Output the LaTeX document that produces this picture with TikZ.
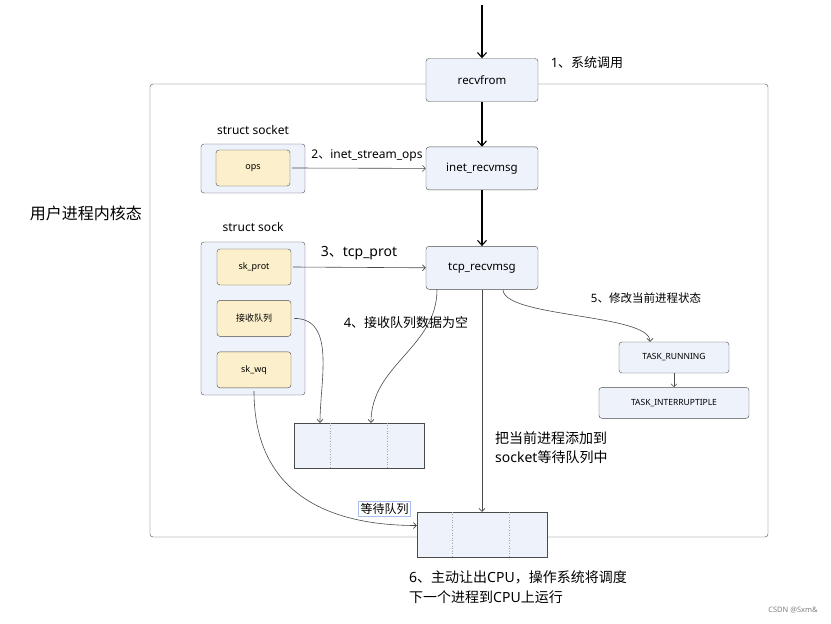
\documentclass[tikz,border=0pt]{standalone}
\usepackage{fontspec}
\setmainfont{Noto Sans}
\newfontfamily\cjk{Noto Sans CJK SC}
\usepackage{xcolor}
\usetikzlibrary{arrows.meta,positioning,calc}
\definecolor{boxblue}{HTML}{EEF2FB}
\definecolor{boxyellow}{HTML}{FCEFCB}
\definecolor{linegray}{HTML}{4A4A4A}
\definecolor{selblue}{HTML}{A9BDF2}

\begin{document}
\begin{tikzpicture}[x=1pt, y=-1pt,
    node distance=15pt,
    func/.style={rectangle, draw=linegray, rounded corners=3pt, fill=boxblue, minimum width=112pt, minimum height=43pt, font=\fontsize{11.5}{13}\selectfont},
    holder/.style={rectangle, draw=linegray, rounded corners=3pt, fill=boxblue, minimum width=104pt},
    field/.style={rectangle, draw=linegray, rounded corners=3pt, fill=boxyellow, minimum width=74pt, minimum height=36pt, font=\fontsize{9}{10}\selectfont},
    taskstate/.style={rectangle, draw=linegray, rounded corners=3pt, fill=boxblue, minimum height=31pt, font=\fontsize{8.5}{10}\selectfont},
    queue/.style={rectangle, draw=linegray, fill=boxblue, minimum width=130pt, minimum height=45pt},
    lbl/.style={font=\fontsize{13}{19}\selectfont, align=left, inner sep=0pt},
    main/.style={line width=1.1pt, -{Straight Barb[length=5pt,width=9pt]}},
    thin/.style={draw=linegray, line width=0.6pt, -{Straight Barb[length=3pt,width=6pt]}},
    sep/.style={gray!70, dotted, line width=0.6pt}
  ]
    \useasboundingbox (0,0) rectangle (831,624);
    % kernel frame
    \node[draw=linegray, rounded corners=3pt, minimum width=618pt, minimum height=453pt] (kernel) at (459,310.5) {};
    \node[lbl, font=\fontsize{16}{18}\selectfont\cjk] (kernlbl) at (86,213) {用户进程内核态};

    % call chain
    \node[func] (recv) at (482,80) {recvfrom};
    \node[func, below=45pt of recv] (inet) {inet\_recvmsg};
    \node[func, below=56pt of inet] (tcp) {tcp\_recvmsg};
    \coordinate (entry) at (482,5);

    % struct socket / struct sock
    \node[holder, minimum height=49pt] (sockethold) at (253,168.5) {};
    \node[field] (ops) at (253,168) {ops};
    \node[lbl, font=\fontsize{12}{14}\selectfont] (socketlbl) at (253,130) {struct socket};
    \node[holder, minimum height=153pt] (sockhold) at (253,318.5) {};
    \node[field] (skprot) at (254,267) {sk\_prot};
    \node[field, below=of skprot] (rxq) {\cjk 接收队列};
    \node[field, below=of rxq] (wq) {sk\_wq};
    \node[lbl, font=\fontsize{12}{14}\selectfont] (socklbl) at (253,227) {struct sock};

    % queues
    \node[queue] (q1) at (359,445.5) {};
    \node[queue] (q2) at (482,534.5) {};
    \draw[sep] ($(q1.north west)!0.28!(q1.north east)$) -- ($(q1.south west)!0.28!(q1.south east)$);
    \draw[sep] ($(q1.north west)!0.72!(q1.north east)$) -- ($(q1.south west)!0.72!(q1.south east)$);
    \draw[sep] ($(q2.north west)!0.27!(q2.north east)$) -- ($(q2.south west)!0.27!(q2.south east)$);
    \draw[sep] ($(q2.north west)!0.71!(q2.north east)$) -- ($(q2.south west)!0.71!(q2.south east)$);
    \node[draw=selblue, line width=1pt, fill=white, inner sep=2pt, font=\fontsize{12}{13}\selectfont\cjk] (waitlbl) at (384.5,509) {等待队列};

    % task states
    \node[taskstate, minimum width=110pt] (run) at (674,357.5) {TASK\_RUNNING};
    \node[taskstate, minimum width=150pt, below=14pt of run] (intr) {TASK\_INTERRUPTIPLE};

    % connectors
    \draw[main] (entry) -- (recv);
    \draw[main] (recv) -- (inet);
    \draw[main] (inet) -- (tcp);
    \draw[thin] ([xshift=2pt]ops.east) -- (inet.west);
    \draw[thin] ([xshift=2pt]skprot.east) -- (tcp.west);
    \draw[thin] ([xshift=3pt]rxq.east) to[out=0, in=90] ([xshift=-39pt]q1.north);
    \draw[thin] ([xshift=-45pt]tcp.south) to[out=-90, in=90] ([xshift=12pt]q1.north);
    \draw[thin] ([yshift=-3pt]wq.south) .. controls +(0,105) and +(-85,0) .. ([yshift=9pt]q2.west);
    \draw[thin] (tcp) -- (q2);
    \draw[thin] ([xshift=21pt]tcp.south) .. controls +(0,28) and +(0,-28) .. ([xshift=-24pt]run.north);
    \draw[thin] (run) -- (intr);

    % labels
    \node[lbl] (step1) at (587,63) {1{\cjk 、系统调用}};
    \node[lbl, font=\fontsize{12}{14}\selectfont] (step2) at (367,156) {2{\cjk 、}inet\_stream\_ops};
    \node[lbl, font=\fontsize{14}{16}\selectfont] (step3) at (359,253) {3{\cjk 、}tcp\_prot};
    \node[lbl] (step4) at (406,323) {4{\cjk 、接收队列数据为空}};
    \node[lbl, font=\fontsize{11.5}{13}\selectfont] (step5) at (646,298) {5{\cjk 、修改当前进程状态}};
    \node[lbl, font=\fontsize{14}{19}\selectfont, anchor=west] (addwait) at (495,447.5) {{\cjk 把当前进程添加到}\\socket{\cjk 等待队列中}};
    \node[lbl, font=\fontsize{14}{20}\selectfont, anchor=west] (step6) at (409,587) {6{\cjk 、主动让出}CPU{\cjk ，操作系统将调度}\\{\cjk 下一个进程到}CPU{\cjk 上运行}};
    \node[lbl, font=\fontsize{7.5}{9}\selectfont, text=gray] (mark) at (793,610) {CSDN @Sxm\&};
  \end{tikzpicture}
\end{document}
